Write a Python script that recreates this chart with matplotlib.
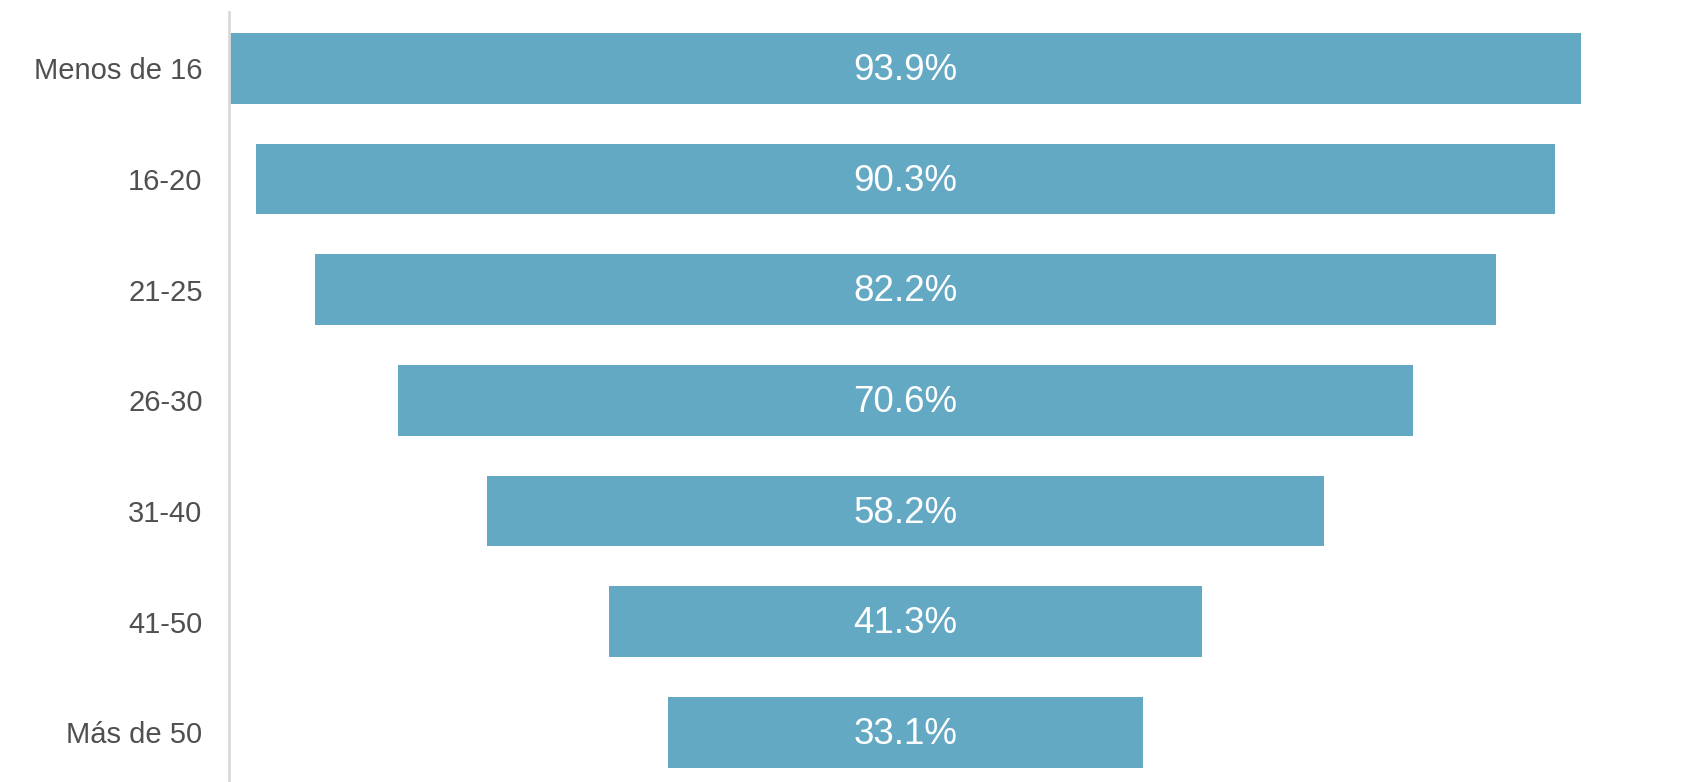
import matplotlib
matplotlib.use("Agg")
import matplotlib.pyplot as plt

categories = ["Menos de 16", "16-20", "21-25", "26-30", "31-40", "41-50", "Más de 50"]
values = [93.9, 90.3, 82.2, 70.6, 58.2, 41.3, 33.1]

bar_color = "#64a9c4"
plt.rcParams['font.family'] = ['Liberation Sans', 'DejaVu Sans']

fig = plt.figure(figsize=(17.02, 7.82), dpi=100)
ax = fig.add_axes([229/1702, 0, (1582-229)/1702, (782-12)/782])

ypos = list(range(len(categories)))
lefts = [-v / 2 for v in values]
bars = ax.barh(ypos, values, left=lefts, height=0.64, color=bar_color)
for y, v in zip(ypos, values):
    ax.text(0, y + 0.02, f"{v:.1f}%", ha="center", va="center", color="white", fontsize=26.5)

ax.set_xlim(-47.05, 47.05)
ax.set_ylim(6.45, -0.51)
ax.set_yticks(ypos)
ax.set_yticklabels(categories, fontsize=21, color="#505050")
ax.tick_params(axis="y", length=0, pad=19)
ax.set_xticks([])
for s in ["top", "right", "bottom"]:
    ax.spines[s].set_visible(False)
ax.spines["left"].set_color("#d9d9d9")
ax.spines["left"].set_linewidth(2)

fig.savefig("out.png", dpi=100)
